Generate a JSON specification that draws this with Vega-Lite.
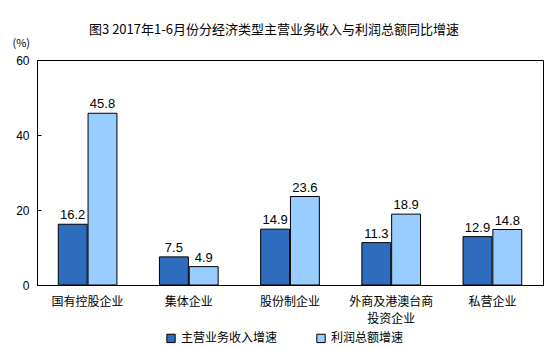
{
  "$schema": "https://vega.github.io/schema/vega-lite/v6.json",
  "width": 506,
  "height": 225,
  "autosize": "none",
  "padding": {"left": 37, "top": 60, "right": 11, "bottom": 64},
  "background": "white",
  "title": {
    "text": "图3 2017年1-6月份分经济类型主营业务收入与利润总额同比增速",
    "font": "Noto Sans CJK SC",
    "fontSize": 13,
    "fontWeight": "normal",
    "color": "#000000",
    "anchor": "middle",
    "dx": -16,
    "offset": 0
  },
  "config": {
    "view": {"stroke": "#000000", "strokeWidth": 1},
    "font": "Liberation Sans"
  },
  "data": {
    "values": [
      {"cat": "国有控股企业", "series": "主营业务收入增速", "v": 16.2},
      {"cat": "国有控股企业", "series": "利润总额增速", "v": 45.8},
      {"cat": "集体企业", "series": "主营业务收入增速", "v": 7.5},
      {"cat": "集体企业", "series": "利润总额增速", "v": 4.9},
      {"cat": "股份制企业", "series": "主营业务收入增速", "v": 14.9},
      {"cat": "股份制企业", "series": "利润总额增速", "v": 23.6},
      {"cat": "外商及港澳台商投资企业", "series": "主营业务收入增速", "v": 11.3},
      {"cat": "外商及港澳台商投资企业", "series": "利润总额增速", "v": 18.9},
      {"cat": "私营企业", "series": "主营业务收入增速", "v": 12.9},
      {"cat": "私营企业", "series": "利润总额增速", "v": 14.8}
    ]
  },
  "encoding": {
    "x": {
      "field": "cat",
      "type": "nominal",
      "sort": null,
      "scale": {"paddingInner": 0.42, "paddingOuter": 0.21},
      "axis": {
        "title": null,
        "labelAngle": 0,
        "ticks": false,
        "domainColor": "#000000",
        "labelFont": "Noto Sans CJK SC",
        "labelFontSize": 12,
        "labelLineHeight": 17,
        "labelColor": "#000000",
        "labelPadding": 11,
        "labelExpr": "datum.label == '外商及港澳台商投资企业' ? ['外商及港澳台商', '投资企业'] : datum.label"
      }
    },
    "xOffset": {
      "field": "series",
      "type": "nominal",
      "sort": ["主营业务收入增速", "利润总额增速"],
      "scale": {"paddingInner": 0.03}
    },
    "y": {
      "field": "v",
      "type": "quantitative",
      "scale": {"domain": [0, 60]},
      "axis": {
        "values": [0, 20, 40, 60],
        "grid": false,
        "title": "(%)",
        "titleAngle": 0,
        "titleAlign": "left",
        "titleBaseline": "middle",
        "titleX": -25,
        "titleY": -17,
        "titleFont": "Noto Sans CJK SC",
        "titleFontSize": 11,
        "titleFontWeight": "normal",
        "titleColor": "#000000",
        "domainColor": "#000000",
        "tickColor": "#000000",
        "tickSize": -4,
        "labelPadding": 12,
        "labelFontSize": 12,
        "labelColor": "#000000"
      }
    }
  },
  "layer": [
    {
      "mark": {"type": "bar", "stroke": "#000000", "strokeWidth": 1},
      "encoding": {
        "color": {
          "field": "series",
          "type": "nominal",
          "sort": ["主营业务收入增速", "利润总额增速"],
          "scale": {"domain": ["主营业务收入增速", "利润总额增速"], "range": ["#2E6DBE", "#99CCFF"]},
          "legend": {
            "title": null,
            "orient": "none",
            "direction": "horizontal",
            "legendX": 128,
            "legendY": 272,
            "symbolType": "square",
            "symbolSize": 70,
            "symbolStrokeColor": "#000000",
            "symbolStrokeWidth": 1,
            "labelFont": "Noto Sans CJK SC",
            "labelFontSize": 12,
            "labelColor": "#000000",
            "columnPadding": 36
          }
        }
      }
    },
    {
      "mark": {"type": "text", "dy": -9, "fontSize": 13, "color": "#000000"},
      "encoding": {"text": {"field": "v", "type": "quantitative", "format": ".1f"}}
    }
  ]
}
